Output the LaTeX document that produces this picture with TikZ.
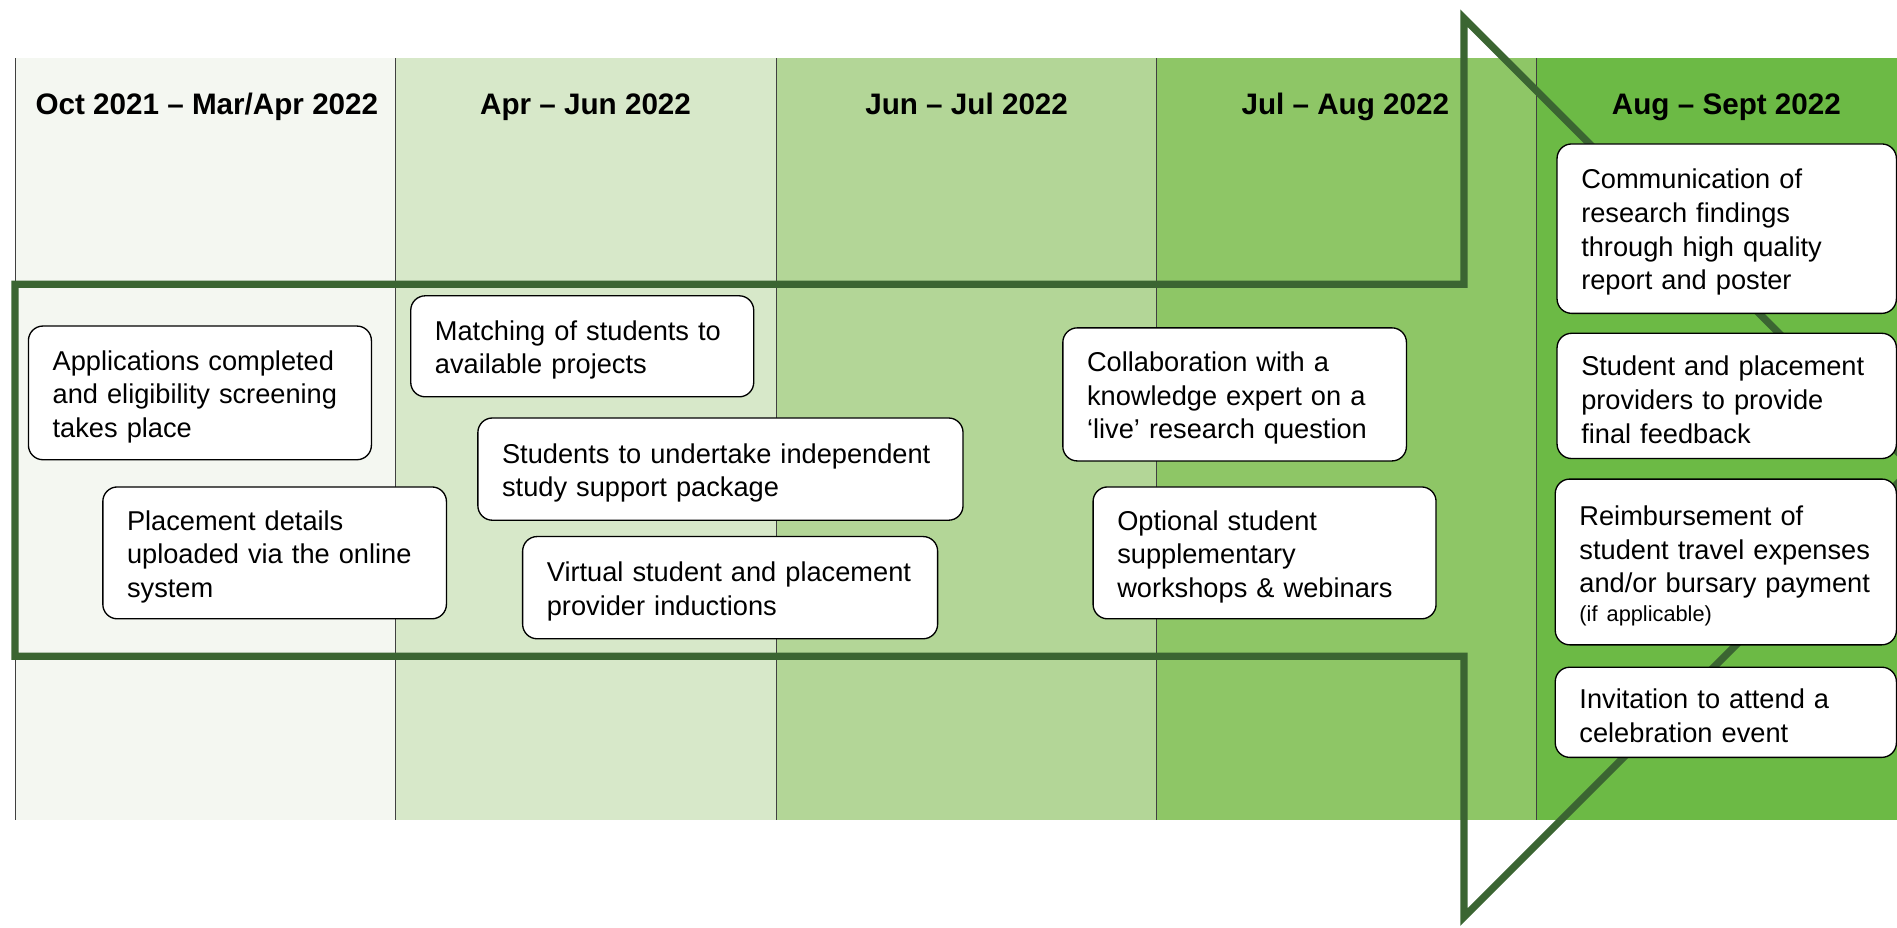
\documentclass[tikz,border=0pt]{standalone}
\usepackage{fontspec}
\setmainfont{Liberation Sans}
\definecolor{colA}{HTML}{F4F7F1}
\definecolor{colB}{HTML}{D7E8C9}
\definecolor{colC}{HTML}{B3D697}
\definecolor{colD}{HTML}{8EC666}
\definecolor{colE}{HTML}{6CBA45}
\definecolor{arrowgreen}{HTML}{3B6532}
\newcommand\topgap{\rule{0pt}{22.5pt}}
\begin{document}
\begin{tikzpicture}[x=1pt,y=-1pt,
  tbox/.style={draw=black, line width=1.1pt, fill=white, rounded corners=12pt,
    align=left, inner xsep=20pt, inner ysep=0pt,
    font=\fontsize{22.5}{27.8}\selectfont},
  hdr/.style={font=\fontsize{24.5}{29}\selectfont\bfseries, anchor=base},
  divider/.style={draw=black!75, line width=0.8pt},
  arrowline/.style={draw=arrowgreen, line width=6pt, line join=miter}]
\useasboundingbox (0,0) rectangle (1568,767);
\clip (0,0) rectangle (1568,767);
% columns
\fill[colA] (13,48) rectangle (327.3,678);
\fill[colB] (327.3,48) rectangle (641.6,678);
\fill[colC] (641.6,48) rectangle (955.9,678);
\fill[colD] (955.9,48) rectangle (1270.2,678);
\fill[colE] (1270.2,48) rectangle (1568,678);
\foreach \xx in {13,327.3,641.6,955.9,1270.2}
  \draw[divider] (\xx,48) -- (\xx,678);
% headers
\node[hdr] (h1) at (171,95) {Oct 2021 – Mar/Apr 2022};
\node[hdr] (h2) at (484,95) {Apr – Jun 2022};
\node[hdr] (h3) at (799,95) {Jun – Jul 2022};
\node[hdr] (h4) at (1112,95) {Jul – Aug 2022};
\node[hdr] (h5) at (1427,95) {Aug – Sept 2022};
% big arrow
\draw[arrowline] (12.4,235) -- (1210,235) -- (1210,15) -- (1581.5,386.5)
  -- (1210,758) -- (1210,542.5) -- (12.4,542.5) -- cycle;
% boxes
\node[tbox, minimum width=283.5pt, minimum height=110.5pt, text width=243.5pt] (b1) at (165.25,324.75)
  {\topgap Applications completed\\and eligibility screening\\takes place};
\node[tbox, minimum width=284pt, minimum height=109pt, text width=244pt] (b2) at (227,457)
  {\topgap Placement details\\uploaded via the online\\system};
\node[tbox, minimum width=283.5pt, minimum height=83.5pt, text width=243.5pt] (b3) at (481.25,286.25)
  {\topgap Matching of students to\\available projects};
\node[tbox, minimum width=401pt, minimum height=84.5pt, text width=361pt] (b4) at (595.5,387.75)
  {\topgap Students to undertake independent\\study support package};
\node[tbox, minimum width=343pt, minimum height=84.5pt, text width=303pt] (b5) at (603.5,485.75)
  {\topgap Virtual student and placement\\provider inductions};
\node[tbox, minimum width=284pt, minimum height=110pt, text width=244pt] (b6) at (1020.5,326)
  {\topgap Collaboration with a\\knowledge expert on a\\‘live’ research question};
\node[tbox, minimum width=283.5pt, minimum height=109pt, text width=243.5pt] (b7) at (1045.25,457)
  {\topgap Optional student\\supplementary\\workshops \& webinars};
\node[tbox, minimum width=280.5pt, minimum height=140pt, text width=240.5pt] (b8) at (1427.25,189)
  {\topgap Communication of\\research findings\\through high quality\\report and poster};
\node[tbox, minimum width=280.5pt, minimum height=103.5pt, text width=240.5pt] (b9) at (1427.25,327.25)
  {\topgap Student and placement\\providers to provide\\final feedback};
\node[tbox, minimum width=282pt, minimum height=137pt, text width=242pt] (b10) at (1426.5,464.5)
  {\topgap Reimbursement of\\student travel expenses\\and/or bursary payment\\[-4.2pt]{\fontsize{18}{22}\selectfont (if applicable)}};
\node[tbox, minimum width=282pt, minimum height=74.5pt, text width=242pt] (b11) at (1426.5,588.75)
  {\topgap Invitation to attend a\\celebration event};
\end{tikzpicture}
\end{document}
